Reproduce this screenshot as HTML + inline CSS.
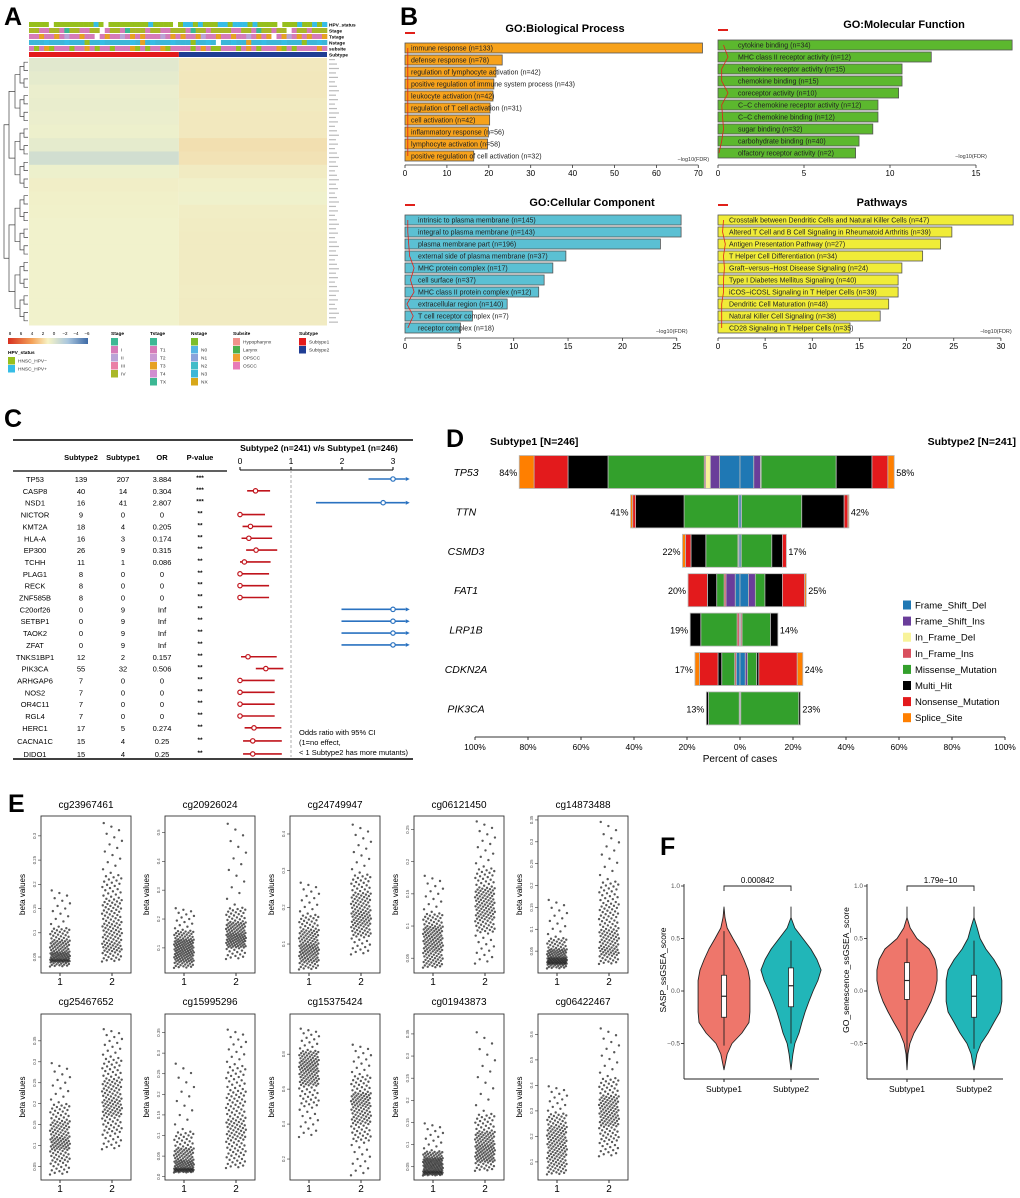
<!DOCTYPE html>
<html><head><meta charset="utf-8"><style>
html,body{margin:0;padding:0;background:#fff;}
svg{display:block;font-family:"Liberation Sans",Arial,sans-serif;}
</style></head><body>
<svg id="fig" width="1020" height="1198" viewBox="0 0 1020 1198" xmlns="http://www.w3.org/2000/svg"></svg>
<script>
// ---------- Panel A data ----------
const hmLeft  = [-0.8,-0.6,-0.3,-0.4,-0.3,-0.2,-0.6,-1.6,-0.2,0.3,0.2,0.1,0,0,0,0,0,0,0,0];
const hmRight = [0.8,0.9,0.9,0.7,0.8,0.8,1.6,1.3,0.6,0.2,-0.1,0.4,0.5,0.6,0.6,0.6,0.6,0.5,0.6,0.6];
const trackNames = ["HPV_status","Stage","Tstage","Nstage","subsite","Subtype"];
const trackHPV = "ggggwggggggggbgwggggggggbggggwgbbgbgggbbgbbbgbggggwgggbggbgb";
const trackStage = "yyppyyptyyppyywpyyptyyypyyppyyyptyypyyyyppyyptyypyywpyypyyy";
const trackT = "ppoppoplppoppwpopplpopoppplpopoppolppoppopplpopowpolpopoppo";
const trackN = "cccbcccbcccgccbcccccbcocbcccbcccgccbcwccbccoccbcccbcccgccbc";
const trackSub = "pgpogpppgppopgppgpppogpgppogppppgpopggpppgpopgpppogpgppppop";
const subtypeSplit = 0.503;
// ---------- Panel B data ----------
const bpLabels = ["immune response (n=133)","defense response (n=78)","regulation of lymphocyte activation (n=42)","positive regulation of immune system process (n=43)","leukocyte activation (n=42)","regulation of T cell activation (n=31)","cell activation (n=42)","inflammatory response (n=56)","lymphocyte activation (n=58)","positive regulation of cell activation (n=32)"];
const bpValues = [71,23.2,21.7,21.2,21.0,20.3,20.2,19.9,19.7,16.4];
const bpTicks = [0,10,20,30,40,50,60,70];
const bpLine = [0.2,0.2,0.2,0.2,0.2,0.2,0.2,0.2,0.2,0.2];
const mfLabels = ["cytokine binding (n=34)","MHC class II receptor activity (n=12)","chemokine receptor activity (n=15)","chemokine binding (n=15)","coreceptor activity (n=10)","C\u2212C chemokine receptor activity (n=12)","C\u2212C chemokine binding (n=12)","sugar binding (n=32)","carbohydrate binding (n=40)","olfactory receptor activity (n=2)"];
const mfValues = [17.1,12.4,10.7,10.7,10.5,9.3,9.3,9.0,8.2,8.0];
const mfTicks = [0,5,10,15];
const mfLine = [0.5,1.0,0.3,0.3,1.0,0.3,0.4,0.5,0.3,0];
const ccLabels = ["intrinsic to plasma membrane (n=145)","integral to plasma membrane (n=143)","plasma membrane part (n=196)","external side of plasma membrane (n=37)","MHC protein complex (n=17)","cell surface (n=37)","MHC class II protein complex (n=12)","extracellular region (n=140)","T cell receptor complex (n=7)","receptor complex (n=18)"];
const ccValues = [25.4,25.4,23.5,14.8,13.6,12.8,12.3,9.4,6.2,5.1];
const ccTicks = [0,5,10,15,20,25];
const ccLine = [0.2,0.2,0.3,0.4,0.9,0.5,0.9,0.1,0.8,0.2];
const pwLabels = ["Crosstalk between Dendritic Cells and Natural Killer Cells (n=47)","Altered T Cell and B Cell Signaling in Rheumatoid Arthritis (n=39)","Antigen Presentation Pathway (n=27)","T Helper Cell Differentiation (n=34)","Graft\u2212versus\u2212Host Disease Signaling (n=24)","Type I Diabetes Mellitus Signaling (n=40)","iCOS\u2212iCOSL Signaling in T Helper Cells (n=39)","Dendritic Cell Maturation (n=48)","Natural Killer Cell Signaling (n=38)","CD28 Signaling in T Helper Cells (n=35)"];
const pwValues = [31.3,24.8,23.6,21.7,19.5,19.1,19.1,18.1,17.2,14.0];
const pwTicks = [0,5,10,15,20,25,30];
const pwLine = [0.5,0.4,0.7,0.5,0.6,0.5,0.5,0.3,0.3,0.3];
// ---------- Panel C data ----------
const cGenes = ["TP53","CASP8","NSD1","NICTOR","KMT2A","HLA-A","EP300","TCHH","PLAG1","RECK","ZNF585B","C20orf26","SETBP1","TAOK2","ZFAT","TNKS1BP1","PIK3CA","ARHGAP6","NOS2","OR4C11","RGL4","HERC1","CACNA1C","DIDO1"];
const cSub2 = [139,40,16,9,18,16,26,11,8,8,8,0,0,0,0,12,55,7,7,7,7,17,15,15];
const cSub1 = [207,14,41,0,4,3,9,1,0,0,0,9,9,9,9,2,32,0,0,0,0,5,4,4];
const cOR = ["3.884","0.304","2.807","0","0.205","0.174","0.315","0.086","0","0","0","Inf","Inf","Inf","Inf","0.157","0.506","0","0","0","0","0.274","0.25","0.25"];
const cP = ["***","***","***","**","**","**","**","**","**","**","**","**","**","**","**","**","**","**","**","**","**","**","**","**"];
const cLow = [2.52,0.14,1.49,0,0.05,0.03,0.12,0,0,0,0,1.99,1.99,1.99,1.99,0.02,0.31,0,0,0,0,0.09,0.06,0.06];
const cHigh = [Infinity,0.59,Infinity,0.49,0.63,0.63,0.73,0.6,0.57,0.57,0.57,Infinity,Infinity,Infinity,Infinity,0.72,0.85,0.68,0.68,0.68,0.68,0.81,0.82,0.82];
const cTicks = [0,1,2,3];
// ---------- Panel D data ----------
const dGenes = ["TP53","TTN","CSMD3","FAT1","LRP1B","CDKN2A","PIK3CA"];
const dTypes = ["Frame_Shift_Del","Frame_Shift_Ins","In_Frame_Del","In_Frame_Ins","Missense_Mutation","Multi_Hit","Nonsense_Mutation","Splice_Site"];
const dLeft = [
 [7.7,3.5,1.8,0.5,36.3,15.1,12.8,5.6],
 [0.6,0,0,0,20.5,18.3,1.1,0.8],
 [0.5,0,0,0.3,12.1,5.6,2.1,1.1],
 [1.8,3.5,0,0.7,2.8,3.5,7.3,0],
 [0.3,0,0,0.8,13.7,4.0,0,0],
 [1.4,0,0,0.6,4.9,1.4,7.0,1.7],
 [0.3,0,0,0,11.6,0.8,0,0]];
const dRight = [
 [5.2,2.5,0,0.3,28.3,13.5,6.0,2.4],
 [0.6,0,0,0,22.7,16.0,1.4,0.4],
 [0.5,0,0,0,11.5,4.0,1.5,0],
 [3.2,2.6,0,0,3.6,6.6,8.4,0.6],
 [0.3,0,0,0.5,10.7,2.8,0,0],
 [2.0,0.8,0,0,3.5,0.8,14.5,2.1],
 [0.3,0,0,0,21.9,0.6,0,0]];
const dLeftPct = ["84%","41%","22%","20%","19%","17%","13%"];
const dRightPct = ["58%","42%","17%","25%","14%","24%","23%"];
const dTicks = [-100,-80,-60,-40,-20,0,20,40,60,80,100];
// ---------- Panel E data (percentiles 0,10,25,50,75,90,100) ----------
const eProbes = ["cg23967461","cg20926024","cg24749947","cg06121450","cg14873488","cg25467652","cg15995296","cg15375424","cg01943873","cg06422467"];
const eDomains = [[0.017,0.341],[0.013,0.557],[0.021,0.449],[0.027,0.271],[0.0,0.359],[0.018,0.414],[-0.008,0.395],[0.08,1.03],[0.02,0.395],[0.029,0.68]];
const eTicks = [[0.05,0.10,0.15,0.20,0.25,0.30],[0.1,0.2,0.3,0.4,0.5],[0.1,0.2,0.3,0.4],[0.05,0.10,0.15,0.20,0.25],[0.05,0.10,0.15,0.20,0.25,0.30,0.35],[0.05,0.10,0.15,0.20,0.25,0.30,0.35],[0.00,0.05,0.10,0.15,0.20,0.25,0.30,0.35],[0.2,0.4,0.6,0.8],[0.05,0.10,0.15,0.20,0.25,0.30,0.35],[0.1,0.2,0.3,0.4,0.5,0.6]];
const eGroup1 = [[0.03,0.04,0.045,0.06,0.085,0.11,0.19],[0.03,0.05,0.07,0.1,0.13,0.16,0.24],[0.03,0.05,0.07,0.1,0.14,0.18,0.27],[0.035,0.045,0.06,0.08,0.1,0.12,0.18],[0.01,0.02,0.025,0.035,0.055,0.08,0.17],[0.03,0.06,0.09,0.12,0.16,0.2,0.3],[0.01,0.015,0.02,0.04,0.07,0.11,0.28],[0.32,0.5,0.62,0.7,0.77,0.82,0.95],[0.03,0.035,0.04,0.055,0.07,0.085,0.15],[0.05,0.08,0.12,0.18,0.24,0.29,0.4]];
const eGroup2 = [[0.04,0.06,0.08,0.12,0.17,0.22,0.33],[0.06,0.1,0.12,0.15,0.19,0.24,0.54],[0.07,0.12,0.15,0.19,0.24,0.29,0.43],[0.04,0.09,0.11,0.135,0.16,0.19,0.265],[0.02,0.04,0.06,0.1,0.16,0.21,0.35],[0.09,0.13,0.17,0.21,0.26,0.31,0.38],[0.02,0.05,0.09,0.14,0.21,0.27,0.36],[0.1,0.3,0.4,0.5,0.58,0.68,0.86],[0.04,0.06,0.075,0.1,0.13,0.17,0.36],[0.12,0.18,0.24,0.3,0.36,0.43,0.63]];
// ---------- Panel F data ----------
const fLevels = [0.8,0.7,0.6,0.5,0.4,0.3,0.2,0.1,0,-0.1,-0.2,-0.3,-0.4,-0.5,-0.6,-0.75];
const fSaspS1 = [0,0.03,0.1,0.28,0.47,0.62,0.75,0.81,0.81,0.81,0.81,0.78,0.56,0.25,0.1,0];
const fSaspS2 = [0,0,0.12,0.37,0.62,0.81,0.94,0.84,0.69,0.56,0.44,0.34,0.25,0.12,0.06,0];
const fSenS1 = [0,0,0.1,0.31,0.69,0.87,0.94,0.94,0.87,0.75,0.59,0.41,0.22,0.09,0.03,0];
const fSenS2 = [0,0,0.1,0.19,0.37,0.62,0.81,0.87,0.87,0.87,0.81,0.62,0.44,0.22,0.09,0];
const fBoxS = [[-0.52,-0.25,-0.05,0.15,0.57],[-0.5,-0.15,0.05,0.22,0.48]];
const fBoxG = [[-0.72,-0.08,0.1,0.27,0.5],[-0.55,-0.25,-0.05,0.15,0.48]];
const fPvals = ["0.000842","1.79e\u221210"];
const fYTicks = [1.0,0.5,0.0,-0.5];

const NS='http://www.w3.org/2000/svg';
const svg=document.getElementById('fig');
function mk(tag,a,p){const e=document.createElementNS(NS,tag);for(const k in a)e.setAttribute(k,a[k]);(p||svg).appendChild(e);return e;}
function tx(x,y,s,a,p){const e=mk('text',Object.assign({x:x,y:y},a||{}),p);e.textContent=s;return e;}

// ================= Panel letters =================
const letters=[["A",4,25],["B",400,25],["C",4,427],["D",446,447],["E",8,812],["F",660,855]];
letters.forEach(l=>{const t=tx(l[1],l[2],l[0],{'font-size':25,'font-weight':'bold'});

});

// ================= Panel A =================
const gA=mk('g',{});


const hx0=29,hx1=327,hy0=58,hy1=325;
function hmColor(v){
  function lerp(a,b,t){return a.map((c,i)=>Math.round(c+(b[i]-c)*t));}
  const mid=[241,242,204];
  let c= v>=0 ? lerp(mid,[245,170,100],Math.min(v/6,1)) : lerp(mid,[140,180,215],Math.min(-v/5,1));
  return 'rgb('+c.join(',')+')';
}
const bandH=(hy1-hy0)/hmLeft.length, splitX=hx0+(hx1-hx0)*subtypeSplit;
hmLeft.forEach((v,i)=>{const r=mk('rect',{x:hx0,y:hy0+i*bandH,width:splitX-hx0,height:bandH+0.5,fill:hmColor(v)},gA);

});
hmRight.forEach((v,i)=>{const r=mk('rect',{x:splitX,y:hy0+i*bandH,width:hx1-splitX,height:bandH+0.5,fill:hmColor(v)},gA);

});
// tracks
const colMap={g:'#97bf1d',b:'#36bde6',w:'#ffffff',y:'#a9b728',p:'#d57bb8',t:'#3cb894',o:'#e6a123',l:'#b9a3d6',c:'#3cb6d8',r:'#e81f24',u:'#1f3d94'};
const trackStrs=[trackHPV,trackStage,trackT,trackN,trackSub];
const trackY=[22,28,34,40,46,52];
trackStrs.forEach((s,ti)=>{const w=(hx1-hx0)/s.length;
  for(let i=0;i<s.length;i++){const r=mk('rect',{x:hx0+i*w,y:trackY[ti],width:w+0.3,height:5,fill:colMap[s[i]]},gA);
  
  }});
const st1=mk('rect',{x:hx0,y:52,width:splitX-hx0,height:5,fill:'#e31a1c'},gA);


const st2=mk('rect',{x:splitX,y:52,width:hx1-splitX,height:5,fill:'#1f3d94'},gA);


trackNames.forEach((n,i)=>{const t=tx(329,trackY[i]+4.5,n,{'font-size':4.8,'font-weight':'bold'},gA);

});
for(let i=0;i<60;i++){const r=mk('rect',{x:329,y:hy0+i*4.45+1,width:6+(i*7%5),height:1.2,fill:'#bbb'},gA);

}
(function(){let nodes=[];const n=32;for(let i=0;i<n;i++)nodes.push({y:hy0+(i+0.5)*(hy1-hy0)/n,x:28});
 let level=0;const xs=[24,20,15,9,4];
 while(nodes.length>1){const nx=[];for(let i=0;i<nodes.length;i+=2){const a=nodes[i],b=nodes[i+1];const X=xs[level];
   const p=mk('path',{d:`M${a.x},${a.y}H${X}V${b.y}H${b.x}`,fill:'none',stroke:'#444','stroke-width':0.7},gA);
   
   
   nx.push({x:X,y:(a.y+b.y)/2});}nodes=nx;level++;}})();
const grad=mk('defs',{});
const lg=mk('linearGradient',{id:'hmgrad',x1:0,x2:1,y1:0,y2:0},grad);
[['0','#d7301f'],['0.3','#f4a259'],['0.5','#f7f4c6'],['0.75','#a9c6de'],['1','#3d6aa6']].forEach(s=>mk('stop',{offset:s[0],'stop-color':s[1]},lg));
const gb=mk('rect',{x:8,y:338,width:80,height:6,fill:'url(#hmgrad)'},gA);


["8","6","4","2","0","\u22122","\u22124","\u22126"].forEach((s,i)=>{const t=tx(10+i*11,335,s,{'font-size':4.5,'text-anchor':'middle'},gA);

});
const legends=[
 [8,"HPV_status",354,[['#97bf1d','HNSC_HPV\u2212'],['#36bde6','HNSC_HPV+']]],
 [111,"Stage",335,[['#3cb894',''],['#d57bb8','I'],['#b9a3d6','II'],['#ea7fa6','III'],['#a9b728','IV']]],
 [150,"Tstage",335,[['#3cb894',''],['#d57bb8','T1'],['#c99ad3','T2'],['#e6a123','T3'],['#d08ed0','T4'],['#3cb894','TX']]],
 [191,"Nstage",335,[['#7cbd2a',''],['#55b5e3','N0'],['#8aa3db','N1'],['#41bcc9','N2'],['#3cb6d8','N3'],['#d7a71a','NX']]],
 [233,"Subsite",335,[['#f0928b','Hypopharynx'],['#4caf4c','Larynx'],['#f0a030','OPSCC'],['#e87bb8','OSCC']]],
 [299,"Subtype",335,[['#e31a1c','Subtype1'],['#1f3d94','Subtype2']]]];
legends.forEach(L=>{const t=tx(L[0],L[2],L[1],{'font-size':4.8,'font-weight':'bold'},gA);
 
 
 L[3].forEach((e,i)=>{const y=L[2]+3+i*8;
  const r=mk('rect',{x:L[0],y:y,width:7,height:7.5,fill:e[0]},gA);
  
  
  const tt=tx(L[0]+10,y+5.5,e[1],{'font-size':4.8,fill:'#333'},gA);
  
  });});

// ================= Panel B =================
function drawGO(name,title,titleX,titleY,x0,ppu,rowY,labels,values,ticks,line,color,labOff,axisY){
  const g=mk('g',{});
  
  
  const t=tx(titleX,titleY,title,{'font-size':11,'font-weight':'bold','text-anchor':'middle'},g);
  
  
  const xs=v=>x0+v*ppu;
  values.forEach((v,i)=>{const y=rowY+i*12;
    const r=mk('rect',{x:x0,y:y-5,width:xs(v)-x0,height:10,fill:color,stroke:'#555','stroke-width':0.8},g);
    
    
    const l=tx(x0+labOff,y+2.5,labels[i],{'font-size':7,fill:'#222'},g);
    
    });
  const pts=line.map((v,i)=>(x0+1+v*9)+','+(rowY+i*12)).join(' ');
  const pl=mk('polyline',{points:pts,fill:'none',stroke:'#e0201a','stroke-width':0.8},g);
  
  
  const lr=mk('rect',{x:x0,y:rowY-16,width:10,height:2,fill:'#e0201a'},g);
  
  
  const ax=mk('line',{x1:x0,x2:xs(ticks[ticks.length-1]),y1:axisY,y2:axisY,stroke:'#333','stroke-width':0.8},g);
  
  
  ticks.forEach(v=>{mk('line',{x1:xs(v),x2:xs(v),y1:axisY,y2:axisY+3,stroke:'#333','stroke-width':0.8},g);
    const tl=tx(xs(v),axisY+11,String(v),{'font-size':8,'text-anchor':'middle'},g);
    
    });
  const xl=tx(xs(ticks[ticks.length-1])-5,rowY+9*12+5,'\u2212log10(FDR)',{'font-size':5.5,'text-anchor':'middle',fill:'#333'},g);
  
  
}
drawGO('go-biological-process','GO:Biological Process',565,32,405,4.19,48,bpLabels,bpValues,bpTicks,bpLine,'#f7a21b',6,165);
drawGO('go-molecular-function','GO:Molecular Function',904,28,718,17.2,45,mfLabels,mfValues,mfTicks,mfLine,'#5cb82e',20,165);
drawGO('go-cellular-component','GO:Cellular Component',592,206,405,10.87,220,ccLabels,ccValues,ccTicks,ccLine,'#5bc0d3',13,338);
drawGO('pathways','Pathways',882,206,718,9.43,220,pwLabels,pwValues,pwTicks,pwLine,'#f0ec38',11,338);

// ================= Panel C =================
const gC=mk('g',{});


[[13,413,440,1.5],[13,227,471,1.2],[13,413,759,1.5]].forEach(l=>{const r=mk('line',{x1:l[0],x2:l[1],y1:l[2],y2:l[2],stroke:'#000','stroke-width':l[3]},gC);

});
const cCols=[35,81,123,162,200];
[["",0],["Subtype2",1],["Subtype1",2],["OR",3],["P-value",4]].forEach(h=>{if(!h[0])return;const t=tx(cCols[h[1]],460,h[0],{'font-size':7.5,'font-weight':'bold','text-anchor':'middle'},gC);

});
const ct=tx(319,451,'Subtype2 (n=241) v/s Subtype1 (n=246)',{'font-size':8.5,'font-weight':'bold','text-anchor':'middle'},gC);


const cx=v=>240+v*51;
const cax=mk('line',{x1:cx(0),x2:cx(3),y1:470,y2:470,stroke:'#000','stroke-width':1},gC);


cTicks.forEach(v=>{mk('line',{x1:cx(v),x2:cx(v),y1:467,y2:470,stroke:'#000'},gC);
 const t=tx(cx(v),464,String(v),{'font-size':8.5,'text-anchor':'middle'},gC);
 
 });
const ref=mk('line',{x1:cx(1),x2:cx(1),y1:470,y2:757,stroke:'#999','stroke-dasharray':'3,2','stroke-width':0.8},gC);


cGenes.forEach((g,i)=>{const y=479+i*11.85+(i>21?(i-21)*1.2:0);
 [g,cSub2[i],cSub1[i],cOR[i]].forEach((v,j)=>{const t=tx(cCols[j],y+3,String(v),{'font-size':7.5,'text-anchor':'middle'},gC);
   
   });
 const p=tx(cCols[4],y+1,cP[i],{'font-size':6.5,'text-anchor':'middle','font-weight':'bold'},gC);
 
 
 const orv=cOR[i]==='Inf'?Infinity:parseFloat(cOR[i]);
 const up=orv>1, col=up?'#2a72c0':'#c0141c';
 const hiCap=Math.min(cHigh[i],3.25), pt=Math.min(orv,3);
 const ln=mk('line',{x1:cx(cLow[i]),x2:cx(hiCap),y1:y,y2:y,stroke:col,'stroke-width':1.6},gC);
 
 
 if(cHigh[i]>3.25){const a=mk('path',{d:`M${cx(3.25)},${y-2}L${cx(3.25)+4},${y}L${cx(3.25)},${y+2}Z`,fill:col},gC);
  
  }
 const c=mk('circle',{cx:cx(pt),cy:y,r:2.2,fill:'#fff',stroke:col,'stroke-width':1.2},gC);
 
 });
["Odds ratio with 95% CI","(1=no effect,","< 1 Subtype2 has more mutants)"].forEach((s,i)=>{const t=tx(299,735+i*10,s,{'font-size':7.5},gC);
 
 });

// ================= Panel D =================
const gD=mk('g',{});


const dColors=['#1f78b4','#6a3d9a','#f8f39a','#d9505e','#33a02c','#000000','#e31a1c','#ff7f00'];
const dx=p=>740+p*2.65;
const t1=tx(490,445,'Subtype1 [N=246]',{'font-size':10.5,'font-weight':'bold'},gD);


const t2=tx(1016,445,'Subtype2 [N=241]',{'font-size':10.5,'font-weight':'bold','text-anchor':'end'},gD);


dGenes.forEach((g,i)=>{const y=472+i*39.4;
 const gl=tx(466,y+4,g,{'font-size':10.5,'font-style':'italic','text-anchor':'middle'},gD);
 
 
 let acc=0;
 dLeft[i].forEach((v,j)=>{if(v<=0)return;const r=mk('rect',{x:dx(-(acc+v)),y:y-16.5,width:v*2.65,height:33,fill:dColors[j],stroke:'#b8b8b8','stroke-width':0.8},gD);
  
  acc+=v;});
 const lp=tx(dx(-acc)-2,y+4,dLeftPct[i],{'font-size':9,'text-anchor':'end'},gD);
 
 
 acc=0;
 dRight[i].forEach((v,j)=>{if(v<=0)return;const r=mk('rect',{x:dx(acc),y:y-16.5,width:v*2.65,height:33,fill:dColors[j],stroke:'#b8b8b8','stroke-width':0.8},gD);
  
  acc+=v;});
 const rp=tx(dx(acc)+2,y+4,dRightPct[i],{'font-size':9},gD);
 
 });
const dax=mk('line',{x1:dx(-100),x2:dx(100),y1:737,y2:737,stroke:'#333','stroke-width':1},gD);


dTicks.forEach(v=>{mk('line',{x1:dx(v),x2:dx(v),y1:737,y2:740,stroke:'#333'},gD);
 const t=tx(dx(v),750,Math.abs(v)+'%',{'font-size':8.5,'text-anchor':'middle'},gD);
 
 });
const dxt=tx(740,762,'Percent of cases',{'font-size':10,'text-anchor':'middle'},gD);


dTypes.forEach((s,i)=>{const y=605+i*16.1;
 const r=mk('rect',{x:903,y:y-4.5,width:8,height:9,fill:dColors[i]},gD);
 
 
 const t=tx(915,y+3.5,s,{'font-size':9.5},gD);
 
 });

// ================= Panel E =================
const gE=mk('g',{});


const eCols=[41,165,290,414,538];
const eRows=[[808,816,973,985],[1005,1014,1180,1192]];
const pctl=[0,0.1,0.25,0.5,0.75,0.9,1];
function qf(q,u){for(let k=1;k<pctl.length;k++){if(u<=pctl[k]){const t=(u-pctl[k-1])/(pctl[k]-pctl[k-1]);return q[k-1]+(q[k]-q[k-1])*t;}}return q[q.length-1];}
eProbes.forEach((name,pi)=>{const bx=eCols[pi%5], R=eRows[Math.floor(pi/5)], w=90;
 const g=mk('g',{},gE);
 
 
 const d=eDomains[pi];const ys=v=>R[2]-(v-d[0])/(d[1]-d[0])*(R[2]-R[1]);
 const tt=tx(bx+w/2,R[0],name,{'font-size':10,'text-anchor':'middle'},g);
 
 
 const box=mk('rect',{x:bx,y:R[1],width:w,height:R[2]-R[1],fill:'none',stroke:'#333','stroke-width':0.9},g);
 
 
 const yl=tx(0,0,'beta values',{'font-size':8,'text-anchor':'middle',transform:`translate(${bx-16},${(R[1]+R[2])/2}) rotate(-90)`},g);
 
 
 eTicks[pi].forEach(v=>{const y=ys(v);mk('line',{x1:bx-3,x2:bx,y1:y,y2:y,stroke:'#333','stroke-width':0.6},g);
  const t=tx(0,0,v.toFixed(2).replace(/^(\d\.\d)0$/,'$1'),{'font-size':4.3,'text-anchor':'middle',fill:'#555',transform:`translate(${bx-5},${y}) rotate(-90)`},g);
  
  });
 [[eGroup1[pi],19,'1'],[eGroup2[pi],71,'2']].forEach(G=>{const cxg=bx+G[1];
  const n=150;for(let i=0;i<n;i++){const u=(i+0.5)/n;const j=(((i*0.6180339)%1)-0.5)*20;
   const c=mk('circle',{cx:cxg+j,cy:ys(qf(G[0],u)),r:1.2,fill:'#222','fill-opacity':0.75},g);
   
   }
  mk('line',{x1:cxg,x2:cxg,y1:R[2],y2:R[2]+3,stroke:'#333'},g);
  const xl=tx(cxg,R[3],G[2],{'font-size':10,'text-anchor':'middle'},g);
  
  });});

// ================= Panel F =================
const gF=mk('g',{});


const fy=v=>991-v*105;
function violin(g,cxv,dens,box,col,nm){
  let L='',Rr='';
  fLevels.forEach((lv,i)=>{const w=dens[i]*32;L+=(i?'L':'M')+(cxv-w)+','+fy(lv);});
  for(let i=fLevels.length-1;i>=0;i--){Rr+='L'+(cxv+dens[i]*32)+','+fy(fLevels[i]);}
  const p=mk('path',{d:L+Rr+'Z',fill:col,stroke:'#222','stroke-width':0.9,'stroke-linejoin':'round'},g);
  
  
  const wl=mk('line',{x1:cxv,x2:cxv,y1:fy(box[0]),y2:fy(box[4]),stroke:'#222','stroke-width':0.9},g);
  
  
  const b=mk('rect',{x:cxv-2.5,y:fy(box[3]),width:5,height:fy(box[1])-fy(box[3]),fill:'#fff',stroke:'#222','stroke-width':0.8},g);
  
  
  const m=mk('line',{x1:cxv-2.5,x2:cxv+2.5,y1:fy(box[2]),y2:fy(box[2]),stroke:'#222','stroke-width':1.2},g);
  
  
}
[[684,819,724,791,'SASP_ssGSEA_score',fSaspS1,fSaspS2,fBoxS,fPvals[0],666,'sasp'],[867,1003,907,974,'GO_senescence_ssGSEA_score',fSenS1,fSenS2,fBoxG,fPvals[1],849,'senescence']].forEach(P=>{
 const g=mk('g',{},gF);
 
 
 const ya=mk('line',{x1:P[0],x2:P[0],y1:884,y2:1079,stroke:'#222','stroke-width':0.9},g);
 
 
 const xa=mk('line',{x1:P[0],x2:P[1],y1:1079,y2:1079,stroke:'#222','stroke-width':0.9},g);
 
 
 fYTicks.forEach(v=>{mk('line',{x1:P[0]-3,x2:P[0],y1:fy(v),y2:fy(v),stroke:'#222','stroke-width':0.8},g);
  const t=tx(P[0]-4,fy(v)+2,v.toFixed(1).replace('-','\u2212'),{'font-size':6.5,'text-anchor':'end',fill:'#555'},g);
  
  });
 const yt=tx(0,0,P[4],{'font-size':8.5,'text-anchor':'middle',transform:`translate(${P[9]},970) rotate(-90)`},g);
 
 
 violin(g,P[2],P[5],P[7][0],'#ee766b','subtype1');
 violin(g,P[3],P[6],P[7][1],'#21b6b8','subtype2');
 [[P[2],'Subtype1'],[P[3],'Subtype2']].forEach(q=>{mk('line',{x1:q[0],x2:q[0],y1:1079,y2:1082,stroke:'#222'},g);
  const t=tx(q[0],1092,q[1],{'font-size':8.5,'text-anchor':'middle'},g);
  
  });
 const br=mk('path',{d:`M${P[2]},891V886H${P[3]}V891`,fill:'none',stroke:'#222','stroke-width':0.9},g);
 
 
 const pv=tx((P[2]+P[3])/2,883,P[8],{'font-size':8,'text-anchor':'middle'},g);
 
 });
</script>
</body></html>
